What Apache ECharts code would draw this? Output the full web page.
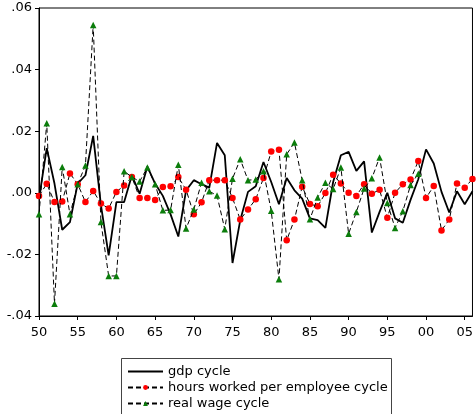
<!DOCTYPE html>
<html>
<head>
<meta charset="utf-8">
<script src="https://cdn.jsdelivr.net/npm/echarts@6/dist/echarts.min.js"></script>
<style>
  html, body { margin: 0; padding: 0; background: #fff; }
  #chart { width: 476px; height: 414px; }
</style>
</head>
<body>
<div id="chart"></div>
<script>
// Annual cyclical components, 1950-2006
const years = [];
for (let y = 1950; y <= 2006; y++) years.push(y);

const gdpCycle = [
  -0.002, 0.0145, 0.003, -0.012, -0.0095, 0.003, 0.0057, 0.0185, -0.004, -0.0203,
  -0.003, -0.003, 0.0057, -0.0003, 0.0085, 0.003, -0.001, -0.007, -0.0142, 0.0008,
  0.0041, 0.0028, 0.0017, 0.0162, 0.0122, -0.0228, -0.0089, 0.0003, 0.0021, 0.0100,
  0.0035, -0.0037, 0.0048, 0.0008, -0.0019, -0.0083, -0.0089, -0.0114, 0.0035, 0.0122,
  0.0133, 0.0071, 0.0102, -0.0129, -0.0062, 0.0000, -0.0083, -0.0097, -0.0023, 0.0044,
  0.0141, 0.0095, 0.0003, -0.0064, 0.0005, -0.0037, 0.0005
];

const hoursCycle = [
  -0.001, 0.0029, -0.003, -0.0028, 0.0063, 0.0028, -0.003, 0.0006, -0.0035, -0.0051,
  0.0003, 0.0024, 0.0051, -0.0017, -0.0017, -0.0023, 0.0019, 0.0021, 0.0051, 0.0010,
  -0.0070, -0.0031, 0.0041, 0.0041, 0.0041, -0.0017, -0.0087, -0.0054, -0.0021, 0.0048,
  0.0134, 0.0140, -0.0154, -0.0087, 0.0020, -0.0036, -0.0044, -0.0001, 0.0059, 0.0030,
  0.0000, -0.0010, 0.0028, -0.0003, 0.0010, -0.0081, 0.0000, 0.0028, 0.0043, 0.0103,
  -0.0017, 0.0022, -0.0122, -0.0087, 0.0030, 0.0016, 0.0045
];

// real wage series ends in 1999
const wageCycle = [
  -0.007, 0.0226, -0.036, 0.0084, -0.007, 0.0028, 0.0089, 0.0545, -0.0095, -0.027,
  -0.027, 0.0070, 0.0051, 0.0037, 0.0082, 0.0028, -0.0057, -0.0056, 0.0091, -0.0116,
  -0.0054, 0.0033, 0.0005, -0.0009, -0.0118, 0.0046, 0.0109, 0.0041, 0.0043, 0.0070,
  -0.0058, -0.0281, 0.0125, 0.0163, 0.0041, -0.0086, -0.0015, 0.0033, 0.0012, 0.0082,
  -0.0133, -0.0062, 0.0014, 0.0047, 0.0115, -0.0033, -0.0114, -0.0060, 0.0025, 0.0062
];

const xTickYears = [1950, 1955, 1960, 1965, 1970, 1975, 1980, 1985, 1990, 1995, 2000, 2005];
const yTicks = [-0.04, -0.02, 0.00, 0.02, 0.04, 0.06];

const pair = arr => arr.map((v, i) => [years[i], v]);

const fontFamily = '"DejaVu Sans", sans-serif';
const fontSize = 13;

const chart = echarts.init(document.getElementById('chart'), null, { renderer: 'canvas' });
chart.setOption({
  animation: false,
  backgroundColor: '#fff',
  grid: {
    left: 39, top: 8, right: 3, bottom: 98,
    show: true, borderColor: '#000', borderWidth: 1
  },
  xAxis: {
    type: 'value',
    min: 1950, max: 2006, interval: 5,
    axisLine: { onZero: false, lineStyle: { color: '#000', width: 1 } },
    axisTick: { show: true, length: 4, inside: false, customValues: xTickYears, lineStyle: { color: '#000' } },
    axisLabel: {
      customValues: xTickYears,
      color: '#000', fontFamily, fontSize, margin: 10,
      formatter: v => String(v % 100).padStart(2, '0')
    },
    splitLine: { show: false }
  },
  yAxis: {
    type: 'value',
    min: yTicks[0], max: yTicks[yTicks.length - 1], interval: 0.02,
    axisLine: { show: true, onZero: false, lineStyle: { color: '#000', width: 1 } },
    axisTick: { show: true, length: 4, lineStyle: { color: '#000' } },
    axisLabel: {
      color: '#000', fontFamily, fontSize, margin: 7,
      formatter: v => v.toFixed(2).replace(/^(-?)0\./, '$1.')
    },
    splitLine: { show: false }
  },
  legend: {
    orient: 'vertical',
    left: 121, top: 358,
    padding: [7, 6, 2, 6],
    itemWidth: 35, itemHeight: 6, itemGap: 3,
    textStyle: { color: '#000', fontFamily, fontSize },
    data: [
      { name: 'gdp cycle', itemStyle: { opacity: 0 } },
      { name: 'hours worked per employee cycle' },
      { name: 'real wage cycle' }
    ]
  },
  // legend frame, running past the lower edge of the canvas
  graphic: [{
    type: 'rect',
    shape: { x: 121.5, y: 358.5, width: 270, height: 80 },
    style: { fill: 'none', stroke: '#444', lineWidth: 1 },
    silent: true
  }],
  series: [
    {
      name: 'gdp cycle',
      type: 'line',
      data: pair(gdpCycle),
      showSymbol: false,
      symbol: 'none',
      lineStyle: { color: '#000', width: 1.8 },
      itemStyle: { color: '#000' },
      z: 3
    },
    {
      name: 'hours worked per employee cycle',
      type: 'line',
      data: pair(hoursCycle),
      symbol: 'circle',
      symbolSize: 6.5,
      showSymbol: true,
      lineStyle: { color: '#000', width: 1, type: [5, 3] },
      itemStyle: { color: '#ff0000', borderWidth: 0 },
      z: 4
    },
    {
      name: 'real wage cycle',
      type: 'line',
      data: pair(wageCycle),
      symbol: 'triangle',
      symbolSize: 6.5,
      showSymbol: true,
      lineStyle: { color: '#000', width: 1, type: [5, 3] },
      itemStyle: { color: '#0b7d0b', borderWidth: 0 },
      z: 5
    }
  ]
});
</script>
</body>
</html>
